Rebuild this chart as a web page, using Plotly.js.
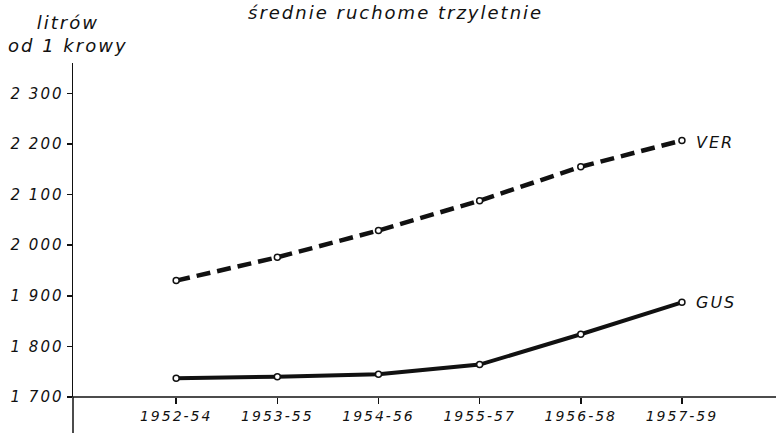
<!DOCTYPE html>
<html>
<head>
<meta charset="utf-8">
<script src="https://cdn.plot.ly/plotly-3.0.1.min.js"></script>
<style>
  html, body { margin: 0; padding: 0; background: #fff; overflow: hidden; }
  #chart { width: 776px; height: 433px; }
  #chart text { letter-spacing: 2px; }
</style>
</head>
<body>
<div id="chart"></div>
<script>
const categories = ["1952-54", "1953-55", "1954-56", "1955-57", "1956-58", "1957-59"];
const verValues = [1930, 1976, 2029, 2088, 2155, 2207];
const gusValues = [1737, 1740, 1745, 1764, 1824, 1887];
const yTickVals = [1700, 1800, 1900, 2000, 2100, 2200, 2300];
const yTickText = ["1 700", "1 800", "1 900", "2 000", "2 100", "2 200", "2 300"];
const seriesNames = ["VER", "GUS"];
const titleText = "średnie ruchome trzyletnie";
const yTitleText = "litrów<br>od 1 krowy";

const fontBase = { family: "DejaVu Sans", color: "#111", style: "italic" };

const markerStyle = { symbol: "circle", size: 6, color: "#fff", line: { color: "#111", width: 1.5 } };

const traces = [
  {
    x: categories, y: verValues, name: seriesNames[0], type: "scatter", mode: "lines+markers",
    line: { color: "#111", width: 4.5, dash: "14px,7px" },
    marker: markerStyle, hoverinfo: "skip"
  },
  {
    x: categories, y: gusValues, name: seriesNames[1], type: "scatter", mode: "lines+markers",
    line: { color: "#111", width: 4 },
    marker: markerStyle, hoverinfo: "skip"
  }
];

const layout = {
  width: 776, height: 433,
  margin: { l: 73, r: 0, t: 63, b: 36, pad: 0 },
  paper_bgcolor: "#fff", plot_bgcolor: "#fff",
  showlegend: false,
  xaxis: {
    type: "category", range: [-1.02, 5.93],
    tickmode: "array", tickvals: categories, ticktext: categories,
    showline: false,
    ticks: "outside", ticklen: 6, tickwidth: 1.5, tickcolor: "#111",
    tickfont: Object.assign({ size: 14 }, fontBase),
    showgrid: false, zeroline: false, fixedrange: true
  },
  yaxis: {
    range: [1700, 2360],
    tickvals: yTickVals, ticktext: yTickText,
    showline: true, linecolor: "#111", linewidth: 1.5,
    ticks: "outside", ticklen: 5, tickwidth: 1.5, tickcolor: "#111",
    tickfont: Object.assign({ size: 15 }, fontBase),
    showgrid: false, zeroline: false, fixedrange: true
  },
  shapes: [
    { type: "line", xref: "paper", yref: "paper", x0: 0, x1: 0, y0: -0.11, y1: 0,
      line: { color: "#111", width: 1.5 } },
    { type: "line", xref: "paper", yref: "paper", x0: 0, x1: 1, y0: 0, y1: 0,
      line: { color: "#111", width: 1.5 } }
  ],
  annotations: [
    { x: categories[5], y: verValues[5], xref: "x", yref: "y", text: seriesNames[0],
      xanchor: "left", yanchor: "middle", xshift: 15, yshift: -2, showarrow: false,
      font: Object.assign({ size: 16 }, fontBase) },
    { x: categories[5], y: gusValues[5], xref: "x", yref: "y", text: seriesNames[1],
      xanchor: "left", yanchor: "middle", xshift: 15, yshift: 0, showarrow: false,
      font: Object.assign({ size: 16 }, fontBase) },
    { x: (272 - 73) / 703, y: (397 - 12) / 334, xref: "paper", yref: "paper", text: titleText,
      xanchor: "left", yanchor: "middle", showarrow: false,
      font: Object.assign({ size: 18 }, fontBase) },
    { x: (68 - 73) / 703, y: (397 - 34) / 334, xref: "paper", yref: "paper", text: yTitleText,
      xanchor: "center", yanchor: "middle", align: "center", showarrow: false,
      font: Object.assign({ size: 18 }, fontBase) }
  ]
};

Plotly.newPlot("chart", traces, layout, { staticPlot: true, displayModeBar: false });
</script>
</body>
</html>
